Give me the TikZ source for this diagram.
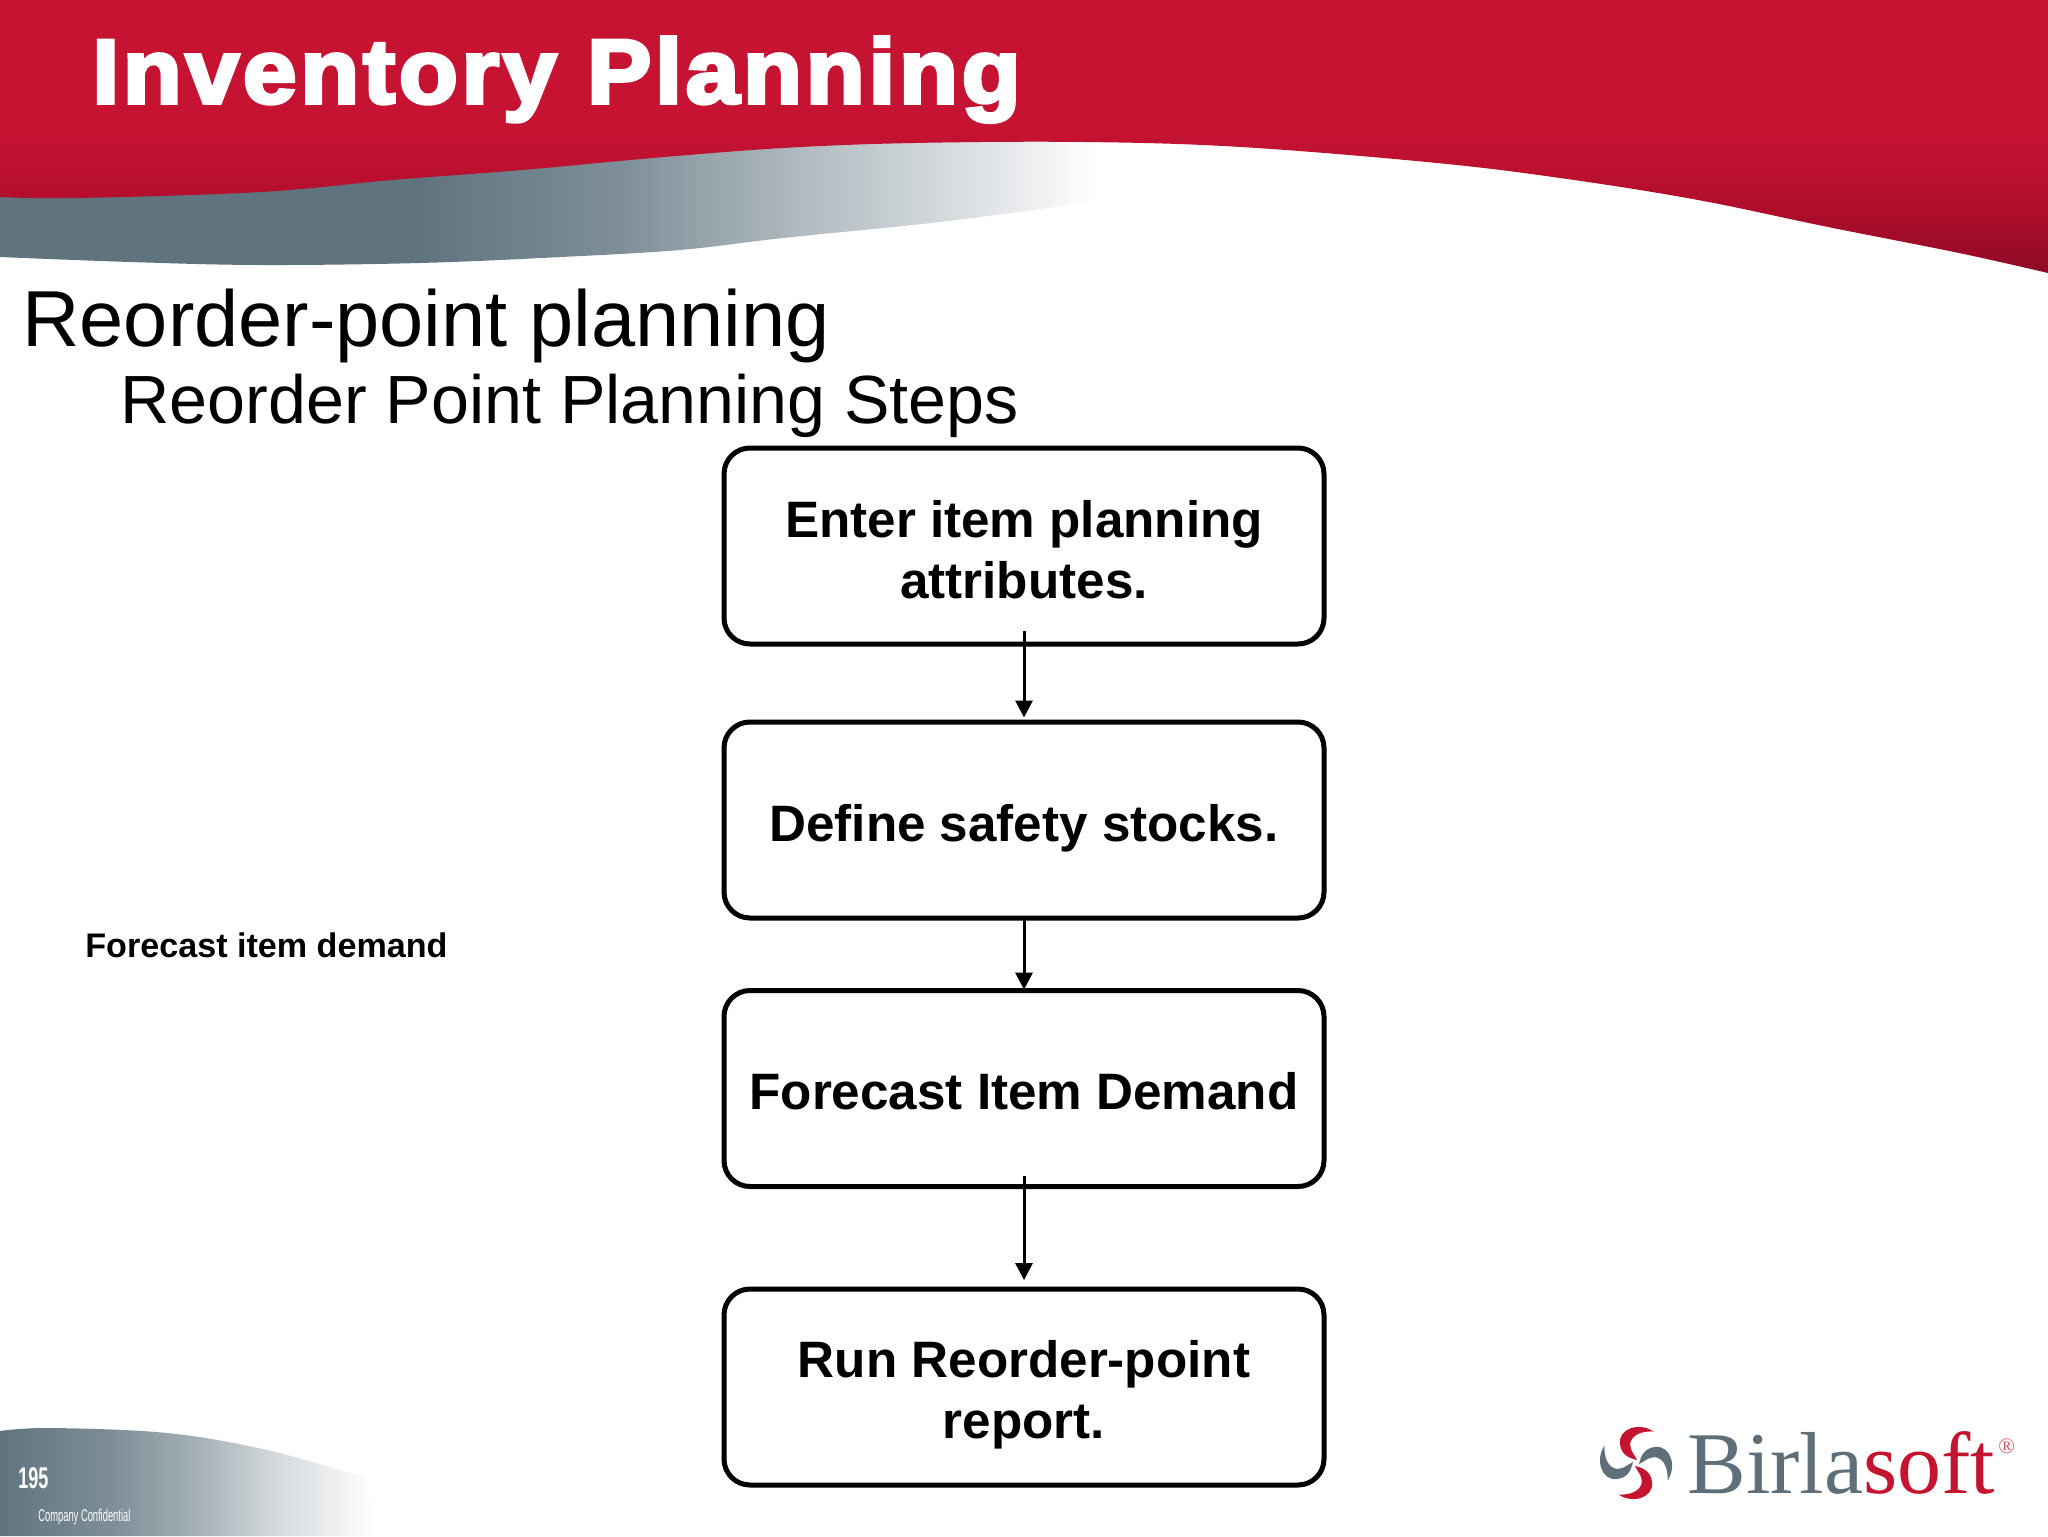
\documentclass[tikz,border=0pt]{standalone}
\usepackage{fontspec}
\usepackage{graphicx}
\setmainfont{Liberation Sans}
\newfontfamily\titlefont[BoldFeatures={FakeBold=4},LetterSpace=4]{Liberation Sans}
\newfontfamily\logofont{Liberation Serif}
\usetikzlibrary{arrows.meta}
\definecolor{logored}{HTML}{C5142F}
\definecolor{logogray}{HTML}{5F6F7A}
\definecolor{HdarkB}{HTML}{8E0A25}
\definecolor{HmidB}{HTML}{B20E2C}
\definecolor{HtopB}{HTML}{C61332}
\definecolor{Gb}{HTML}{607480}
\definecolor{Gc}{HTML}{7D8E98}
\definecolor{Gd}{HTML}{A8B3B9}
\definecolor{Ge}{HTML}{D5DADD}
\pgfdeclareverticalshading{redband}{100bp}{color(0bp)=(HdarkB); color(25bp)=(HdarkB); color(38bp)=(HmidB); color(51bp)=(HtopB); color(100bp)=(HtopB)}
\pgfdeclarehorizontalshading{grayband}{100bp}{color(0bp)=(Gb); color(25bp)=(Gb); color(44bp)=(Gb);
  color(53bp)=(Gc); color(60bp)=(Gd); color(68bp)=(Ge); color(75bp)=(white); color(100bp)=(white)}
\pgfdeclarehorizontalshading{footband}{100bp}{color(0bp)=(Gb); color(25bp)=(Gb); color(40bp)=(Gc);
  color(52bp)=(Gd); color(62bp)=(Ge); color(75bp)=(white); color(100bp)=(white)}
\tikzset{
  x=0.5pt,y=-0.5pt,
  stepbox/.style={draw=black,line width=2.5pt,rounded corners=13pt,fill=white,
    minimum width=300pt,minimum height=98pt,inner sep=0pt,align=center,
    font=\fontsize{25.6pt}{30.5pt}\selectfont\bfseries},
  flow/.style={draw=black,line width=1.5pt,-{Triangle[length=8.5pt,width=8.5pt]}},
  lab/.style={anchor=base west,inner sep=0pt}
}
\begin{document}
\begin{tikzpicture}
\useasboundingbox (0,0) rectangle (2048,1536);
\fill[white] (0,0) rectangle (2048,1536);
% grey band
\begin{scope}
  \clip (0,170) -- (0,257) -- plot[smooth,tension=.6] coordinates {(0,257) (130,262) (261,265) (420,263) (561,257) (680,250) (783,238) (940,222) (1084,203) (1100,200)} -- (1100,130) -- cycle;
  \shade[shading=grayband] (0,100) rectangle (1100,300);
\end{scope}
% red band
\begin{scope}
  \clip (0,0) -- (0,197) -- plot[smooth,tension=.6] coordinates {(0,197) (78,198) (261,192) (392,180) (522,170) (653,158) (783,148) (914,143) (1084,142) (1241,147) (1437,163) (1567,179) (1698,200) (1828,227) (1959,253) (2048,273)} -- (2048,0) -- cycle;
  \shade[shading=redband] (0,0) rectangle (2048,273);
\end{scope}
% footer band
\begin{scope}
  \clip (0,1536) -- (0,1431) -- plot[smooth,tension=.6] coordinates {(0,1431) (50,1428) (167,1433) (267,1450) (367,1478)} -- (375,1536) -- cycle;
  \shade[shading=footband] (0,1420) rectangle (375,1536);
\end{scope}
% texts
\node[lab,text=white] (title) at (92,103) {\titlefont\bfseries\fontsize{45.5pt}{50pt}\selectfont\scalebox{1.058}[1]{Inventory Planning}};
\node[lab] (sub1) at (22,346) {\fontsize{39.7pt}{44pt}\selectfont Reorder-point planning};
\node[lab] (sub2) at (120,423) {\fontsize{34.1pt}{38pt}\selectfont Reorder Point Planning Steps};
\node[lab] (side) at (85,957) {\fontsize{17.06pt}{20pt}\selectfont\bfseries Forecast item demand};
% boxes
\node[stepbox] (a) at (1024,546) {\rule{0pt}{22.7pt}Enter item planning\\attributes.};
\node[stepbox] (b) at (1024,820) {\rule{0pt}{26.7pt}Define safety stocks.};
\node[stepbox] (c) at (1024,1088.5) {\rule{0pt}{21.2pt}Forecast Item Demand};
\node[stepbox] (d) at (1024,1387) {\rule{0pt}{26.7pt}Run Reorder-point\\report.};
% arrows
\draw[flow] ([yshift=8pt]a.south) -- ([yshift=1pt]b.north);
\draw[flow] ([yshift=0.5pt]b.south) -- ([yshift=-0.8pt]c.north);
\draw[flow] ([yshift=6.5pt]c.south) -- ([yshift=3.2pt]d.north);
% footer
\node[lab,text=white] (page) at (18,1488) {\fontsize{15pt}{17pt}\selectfont\bfseries\scalebox{0.6}[1]{195}};
\node[lab,text=white] (conf) at (38,1521) {\fontsize{8.5pt}{10pt}\selectfont\scalebox{0.55}[1]{Company Confidential}};
% logo
\foreach \ang/\col in {0/logored,-90/logogray,-180/logored,-270/logogray}{
  \fill[\col,rotate around={\ang:(1636,1463)}]
    (1653.5,1431.5) .. controls (1640,1422) and (1618,1428) .. (1620,1444)
    .. controls (1621,1454) and (1628,1458) .. (1637,1460)
    .. controls (1633,1452) and (1627,1447) .. (1632,1439)
    .. controls (1636,1433) and (1645,1431) .. (1653.5,1431.5) -- cycle;
}
\node[lab] (logo) at (1687,1493) {\logofont\fontsize{44pt}{48pt}\selectfont\textcolor{logogray}{Birla}\textcolor{logored}{soft}};
\node[lab,text=logored!70!white] (reg) at (1998,1453) {\logofont\fontsize{11pt}{12pt}\selectfont ®};
\end{tikzpicture}
\end{document}
